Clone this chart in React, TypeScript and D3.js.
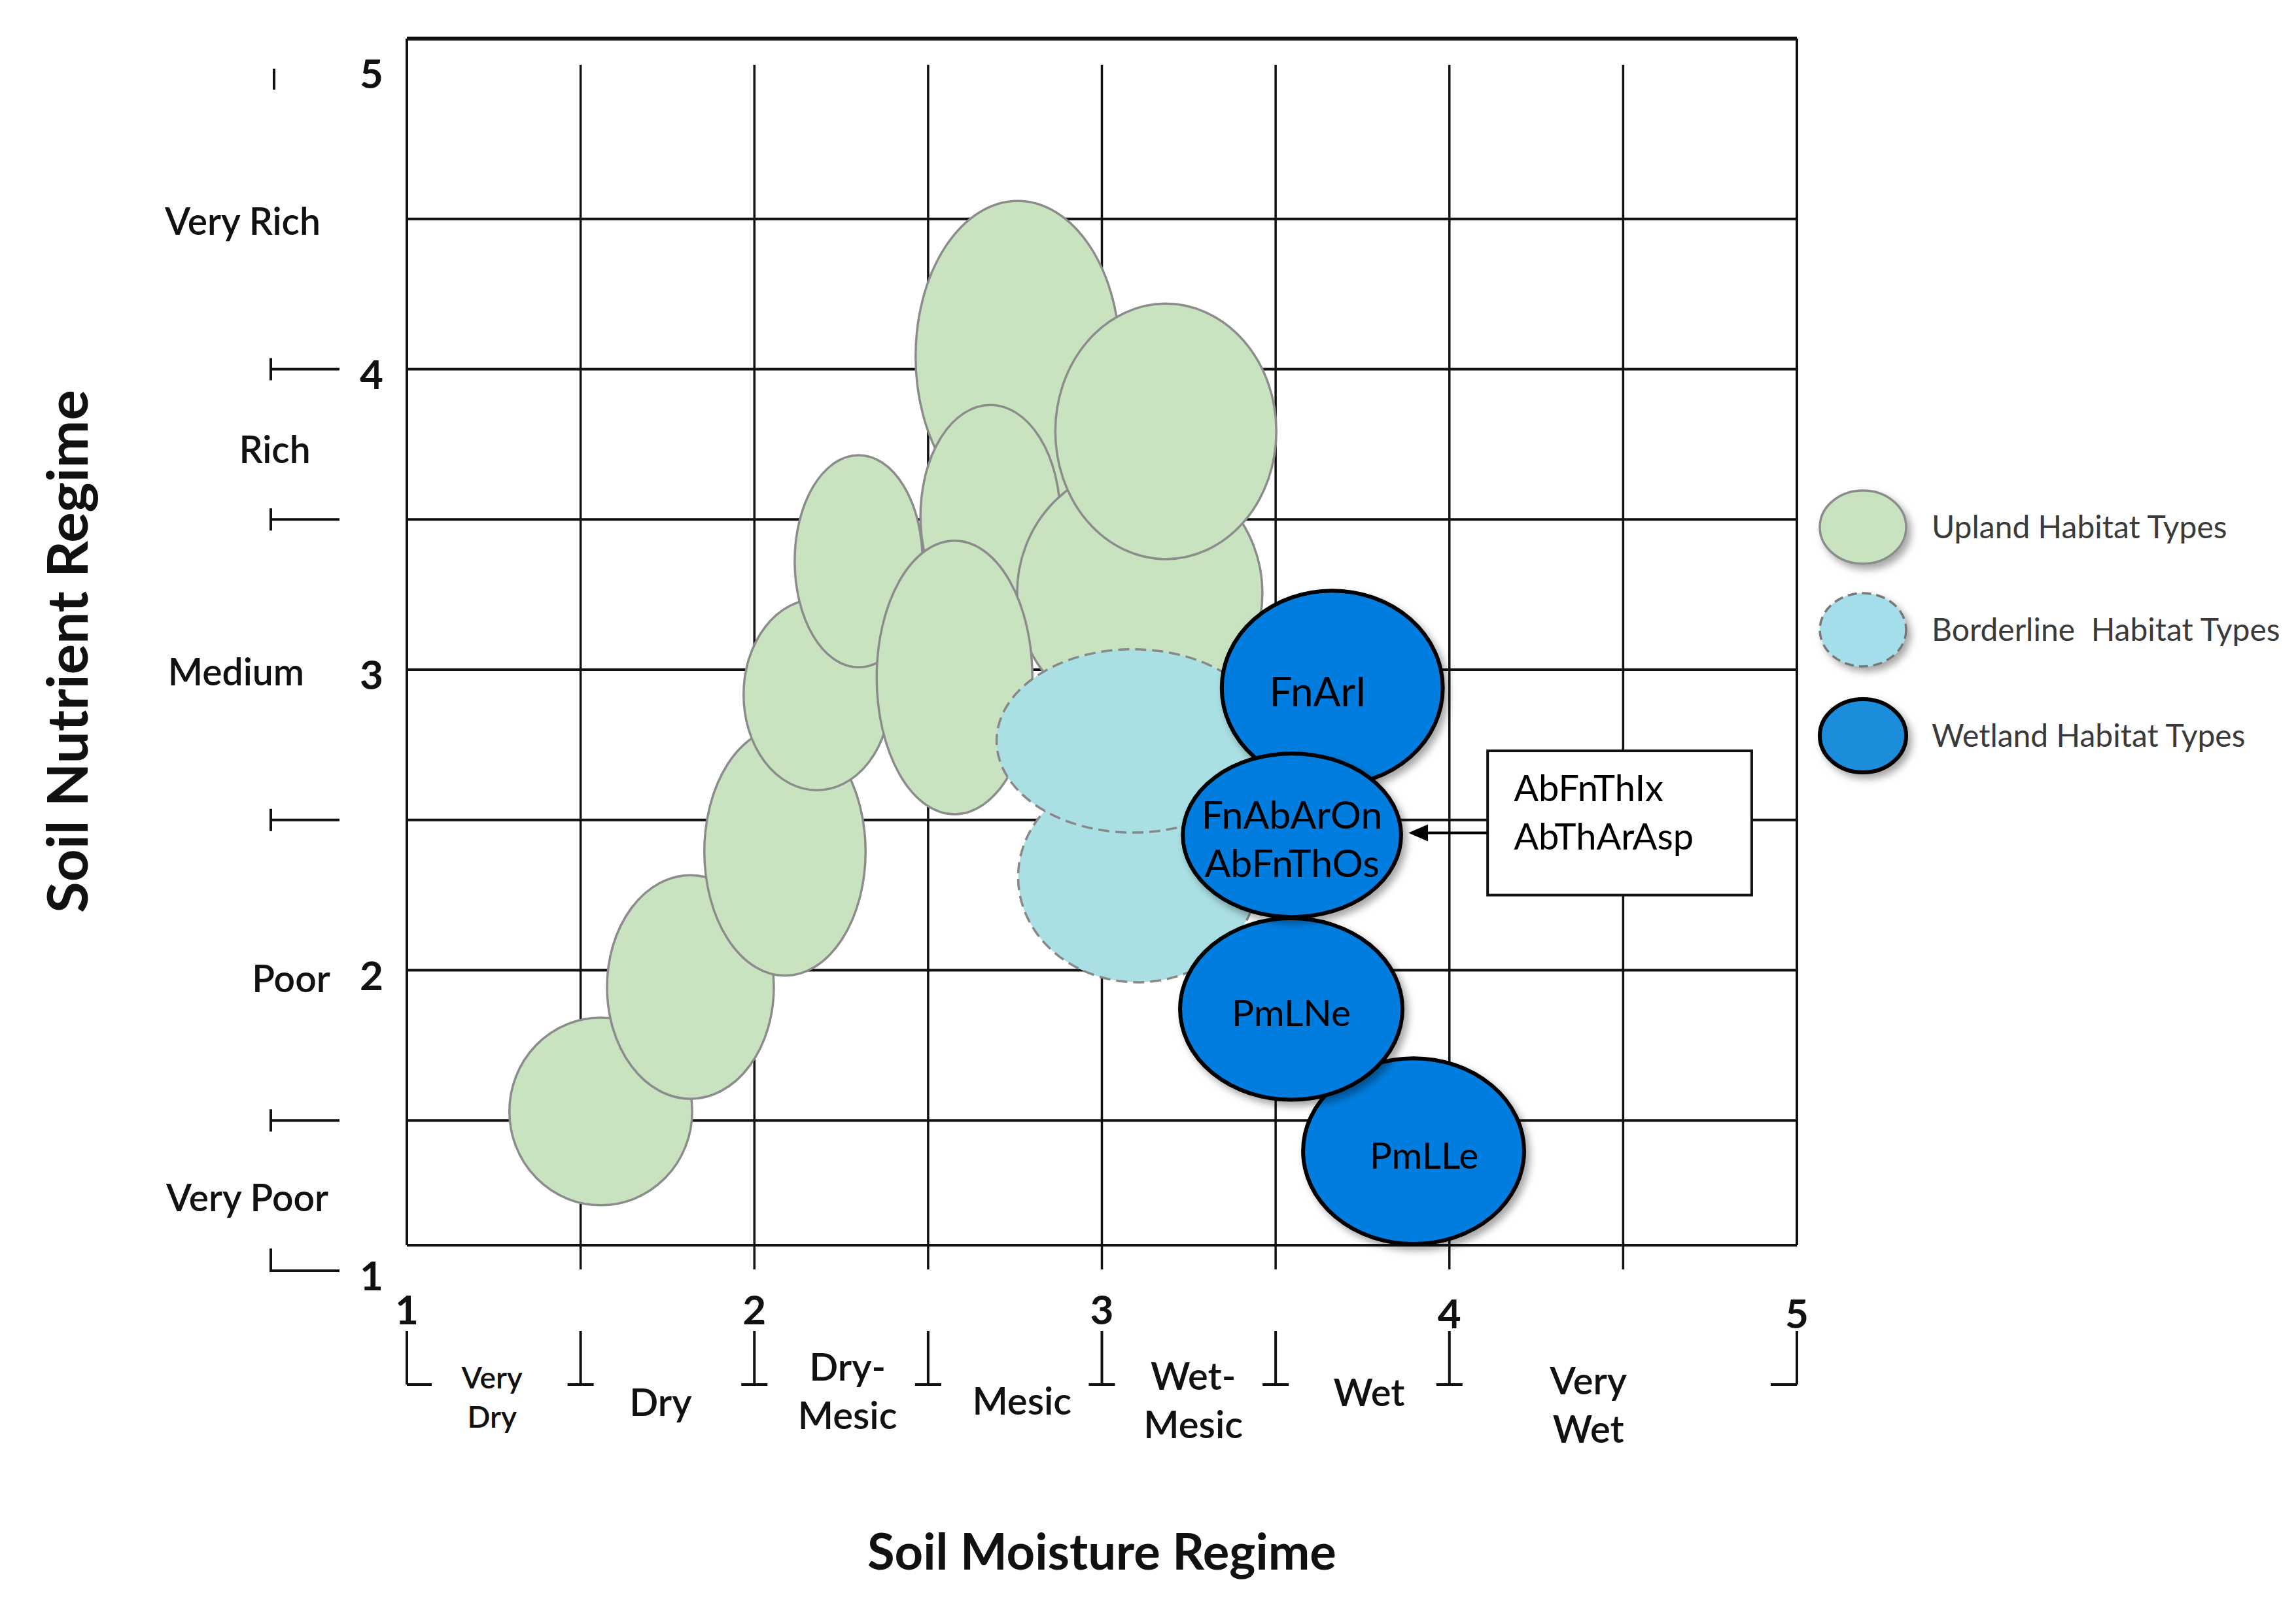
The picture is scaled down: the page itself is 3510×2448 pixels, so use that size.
import React from "react";
import * as d3 from "d3";

// ---------- DATA ----------
const xTickValues = [1, 2, 3, 4, 5];
const yTickValues = [1, 2, 3, 4, 5];
const gridValues = [1.5, 2, 2.5, 3, 3.5, 4, 4.5];

const moistureBounds = [1, 1.5, 2, 2.5, 3, 3.5, 4, 5];
const moistureClasses = [
  ["Very", "Dry"],
  ["Dry"],
  ["Dry-", "Mesic"],
  ["Mesic"],
  ["Wet-", "Mesic"],
  ["Wet"],
  ["Very", "Wet"],
];
const moistureLabelX = [1.245, 1.73, 2.268, 2.77, 3.263, 3.769, 4.4];

const nutrientBounds = [1, 1.5, 2.5, 3.5, 4, 5];
const nutrientClasses = ["Very Rich", "Rich", "Medium", "Poor", "Very Poor"];
const nutrientLabelY = [4.5, 3.74, 3.0, 1.98, 1.25];

// ellipses: [cx (moisture), cy (nutrient), rx, ry] in data units
const uplandHabitats = [
  [2.758, 4.042, 0.294, 0.518],
  [2.679, 3.511, 0.201, 0.37],
  [3.109, 3.255, 0.353, 0.424],
  [3.184, 3.793, 0.318, 0.425],
  [1.558, 1.53, 0.263, 0.312],
  [1.816, 1.944, 0.24, 0.372],
  [2.088, 2.395, 0.232, 0.413],
  [2.18, 2.917, 0.211, 0.318],
  [2.3, 3.361, 0.184, 0.353],
  [2.576, 2.974, 0.224, 0.455],
];
const borderlineHabitats = [
  [3.103, 2.31, 0.344, 0.35],
  [3.089, 2.763, 0.392, 0.305],
];
const wetlandHabitats = [
  { e: [3.897, 1.398, 0.318, 0.309], label: ["PmLLe"] },
  { e: [3.545, 1.871, 0.32, 0.302], label: ["PmLNe"] },
  { e: [3.663, 2.939, 0.318, 0.324], label: ["FnArI"] },
  { e: [3.547, 2.449, 0.314, 0.272], label: ["FnAbArOn", "AbFnThOs"] },
];
const calloutLines = ["AbFnThIx", "AbThArAsp"];
const calloutBox = { x0: 4.11, x1: 4.87, y0: 2.25, y1: 2.73, arrowY: 2.457, tipX: 3.882 };

const legendItems = [
  { label: "Upland Habitat Types", kind: "upland" },
  { label: "Borderline  Habitat Types", kind: "border" },
  { label: "Wetland Habitat Types", kind: "wet" },
];

// ---------- STYLE / LAYOUT ----------
const W = 3510;
const H = 2448;
const FONT = "Lato, 'Open Sans', 'DejaVu Sans', sans-serif";
const GREEN = "#C9E3C1";
const GREEN_STROKE = "#8C8C8C";
const LBLUE = "#AADFE3";
const BLUE = "#037DDE";
const LEGEND_BLUE = "#1F8DDB";
const LEGEND_LBLUE = "#A4DEEA";

const xScale = d3.scaleLinear().domain([1, 5]).range([622, 2747]);
const yScale = d3.scaleLinear().domain([1, 5]).range([1943, 105]);
const plotTop = yScale(5.1);
const plotBottom = yScale(1.085);

const nutrientLabelCx = [371, 420, 361, 445, 378];
const moistureLabelLayout = [
  { y: 2106, gap: 60, fs: 46 },
  { y: 2144, gap: 0, fs: 58 },
  { y: 2090, gap: 74, fs: 58 },
  { y: 2142, gap: 0, fs: 58 },
  { y: 2104, gap: 74, fs: 58 },
  { y: 2129, gap: 0, fs: 58 },
  { y: 2111, gap: 74, fs: 58 },
];
const wetlandLabelStyle = [
  { dx: 16, fs: 57 },
  { dx: 0, fs: 57 },
  { dx: -22, fs: 62 },
  { dx: 0, fs: 59 },
];
const legendLayout = { cx: 2848, ys: [806, 963, 1125], rx: 66, ry: 56, textX: 2953, fs: 48 };

export default function App() {
  const xL = xScale(1);
  const xR = xScale(5);

  return (
    <svg
      width={W}
      height={H}
      viewBox={`0 0 ${W} ${H}`}
      style={{ position: "absolute", left: 0, top: 0, background: "#fff" }}
      fontFamily={FONT}
    >
      <defs>
        <filter id="shadow" x="-20%" y="-20%" width="150%" height="150%">
          <feDropShadow dx="6" dy="7" stdDeviation="6" floodColor="#000" floodOpacity="0.35" />
        </filter>
      </defs>
      <rect x={0} y={0} width={W} height={H} fill="#fff" />

      {/* grid */}
      {gridValues.map((v) => (
        <line key={"h" + v} x1={xL} x2={xR} y1={yScale(v)} y2={yScale(v)} stroke="#111" strokeWidth={4} />
      ))}
      {gridValues.map((v) => (
        <line key={"v" + v} x1={xScale(v)} x2={xScale(v)} y1={yScale(5) - 6} y2={yScale(1) - 2} stroke="#111" strokeWidth={3.5} />
      ))}
      {/* plot frame */}
      <line x1={xL} x2={xR} y1={plotTop} y2={plotTop} stroke="#111" strokeWidth={6} />
      <line x1={xL} x2={xR} y1={plotBottom} y2={plotBottom} stroke="#111" strokeWidth={4} />
      <line x1={xL} x2={xL} y1={plotTop} y2={plotBottom} stroke="#111" strokeWidth={4} />
      <line x1={xR} x2={xR} y1={plotTop} y2={plotBottom} stroke="#111" strokeWidth={4} />

      {/* upland */}
      {uplandHabitats.map(([cx, cy, rx, ry], i) => (
        <ellipse
          key={"u" + i}
          cx={xScale(cx)}
          cy={yScale(cy)}
          rx={xScale(1 + rx) - xScale(1)}
          ry={yScale(1) - yScale(1 + ry)}
          fill={GREEN}
          stroke={GREEN_STROKE}
          strokeWidth={3.5}
        />
      ))}
      {/* borderline */}
      {borderlineHabitats.map(([cx, cy, rx, ry], i) => (
        <ellipse
          key={"b" + i}
          cx={xScale(cx)}
          cy={yScale(cy)}
          rx={xScale(1 + rx) - xScale(1)}
          ry={yScale(1) - yScale(1 + ry)}
          fill={LBLUE}
          stroke="#888"
          strokeWidth={3.5}
          strokeDasharray="17 9"
        />
      ))}
      {/* wetland */}
      {wetlandHabitats.map(({ e: [cx, cy, rx, ry], label }, i) => {
        const px = xScale(cx);
        const py = yScale(cy);
        const { dx, fs } = wetlandLabelStyle[i];
        const gap = 74;
        return (
          <g key={"w" + i}>
            <ellipse
              cx={px}
              cy={py}
              rx={xScale(1 + rx) - xScale(1)}
              ry={yScale(1) - yScale(1 + ry)}
              fill={BLUE}
              stroke="#000"
              strokeWidth={6}
              filter="url(#shadow)"
            />
            {label.map((t, j) => (
              <text
                key={t}
                x={px + dx}
                y={py + (j - (label.length - 1) / 2) * gap + fs * 0.36 + 6}
                textAnchor="middle"
                fontSize={fs}
                fill="#000"
              >
                {t}
              </text>
            ))}
          </g>
        );
      })}

      {/* callout */}
      <rect
        x={xScale(calloutBox.x0)}
        y={yScale(calloutBox.y1)}
        width={xScale(calloutBox.x1) - xScale(calloutBox.x0)}
        height={yScale(calloutBox.y0) - yScale(calloutBox.y1)}
        fill="#fff"
        stroke="#111"
        strokeWidth={4}
      />
      {calloutLines.map((t, i) => (
        <text key={t} x={xScale(calloutBox.x0) + 40} y={yScale(calloutBox.y1) + 77 + i * 74} fontSize={56} fill="#000">
          {t}
        </text>
      ))}
      <line
        x1={xScale(calloutBox.x0)}
        x2={xScale(calloutBox.tipX) + 28}
        y1={yScale(calloutBox.arrowY)}
        y2={yScale(calloutBox.arrowY)}
        stroke="#000"
        strokeWidth={4}
      />
      <path
        d={`M${xScale(calloutBox.tipX)},${yScale(calloutBox.arrowY)} l30,-13 l0,26 z`}
        fill="#000"
      />

      {/* y axis numbers */}
      {yTickValues.map((v) => (
        <text key={"yn" + v} x={568} y={yScale(v) + 30} textAnchor="middle" fontSize={62} fontWeight={700} fill="#111">
          {v}
        </text>
      ))}
      {/* y class brackets */}
      {nutrientBounds.map((v, i) => {
        const y = yScale(v);
        if (i === nutrientBounds.length - 1) {
          return <line key={"yb" + v} x1={419} x2={419} y1={y} y2={y + 32} stroke="#111" strokeWidth={4} />;
        }
        if (i === 0) {
          return (
            <path key={"yb" + v} d={`M414,${y - 34} L414,${y} L519,${y}`} fill="none" stroke="#111" strokeWidth={4} />
          );
        }
        return (
          <path key={"yb" + v} d={`M414,${y - 17} L414,${y + 17} M414,${y} L519,${y}`} fill="none" stroke="#111" strokeWidth={4} />
        );
      })}
      {nutrientClasses.map((t, i) => (
        <text
          key={t}
          x={nutrientLabelCx[i]}
          y={yScale(nutrientLabelY[i]) + 24}
          textAnchor="middle"
          fontSize={57}
          fontWeight={600}
          fill="#111"
        >
          {t}
        </text>
      ))}

      {/* x axis numbers */}
      {xTickValues.map((v) => (
        <text key={"xn" + v} x={xScale(v)} y={v >= 4 ? 2031 : 2025} textAnchor="middle" fontSize={62} fontWeight={700} fill="#111">
          {v}
        </text>
      ))}
      {/* x class brackets */}
      {moistureBounds.map((v, i) => {
        const x = xScale(v);
        const yt = 2035;
        const yb = 2117;
        let h;
        if (i === 0) h = `M${x},${yb} L${x + 38},${yb}`;
        else if (i === moistureBounds.length - 1) h = `M${x - 40},${yb} L${x},${yb}`;
        else h = `M${x - 20},${yb} L${x + 20},${yb}`;
        return <path key={"xb" + v} d={`M${x},${yt} L${x},${yb} ${h}`} fill="none" stroke="#111" strokeWidth={4} />;
      })}
      {moistureClasses.map((lines, i) => {
        const L = moistureLabelLayout[i];
        return (
          <g key={"mc" + i}>
            {lines.map((t, j) => (
              <text
                key={t + j}
                x={xScale(moistureLabelX[i])}
                y={L.y + j * L.gap + L.fs * 0.36}
                textAnchor="middle"
                fontSize={L.fs}
                fontWeight={600}
                fill="#111"
              >
                {t}
              </text>
            ))}
          </g>
        );
      })}

      {/* axis titles */}
      <text x={xScale(3)} y={2400} textAnchor="middle" fontSize={76} fontWeight={700} fill="#111">
        Soil Moisture Regime
      </text>
      <text transform="translate(134,996) rotate(-90)" textAnchor="middle" fontSize={87} fontWeight={700} fill="#111">
        Soil Nutrient Regime
      </text>

      {/* legend */}
      {legendItems.map((it, i) => {
        const y = legendLayout.ys[i];
        const common = { cx: legendLayout.cx, cy: y, rx: legendLayout.rx, ry: legendLayout.ry, filter: "url(#shadow)" };
        let el;
        if (it.kind === "upland") el = <ellipse {...common} fill={GREEN} stroke={GREEN_STROKE} strokeWidth={3.5} />;
        else if (it.kind === "border")
          el = <ellipse {...common} fill={LEGEND_LBLUE} stroke="#777" strokeWidth={3.5} strokeDasharray="14 8" />;
        else el = <ellipse {...common} fill={LEGEND_BLUE} stroke="#000" strokeWidth={6} />;
        return (
          <g key={it.label}>
            {el}
            <text x={legendLayout.textX} y={y + legendLayout.fs * 0.36} fontSize={legendLayout.fs} fill="#3a3a3a" style={{ whiteSpace: "pre" }}>
              {it.label}
            </text>
          </g>
        );
      })}
    </svg>
  );
}
